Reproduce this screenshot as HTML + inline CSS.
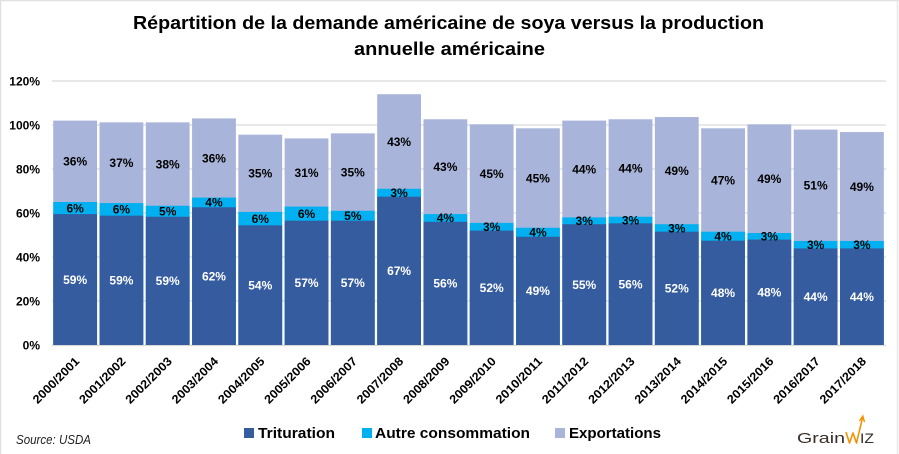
<!DOCTYPE html>
<html><head><meta charset="utf-8"><style>
html,body{margin:0;padding:0;background:#fff;}
svg{display:block;}
text{font-family:"Liberation Sans",sans-serif;}
</style></head><body>
<svg width="899" height="454" viewBox="0 0 899 454" xmlns="http://www.w3.org/2000/svg">
<rect x="0" y="0" width="899" height="454" fill="#fff"/>
<line x1="0" y1="0.5" x2="899" y2="0.5" stroke="#e0e0e0" stroke-width="1.5"/>
<line x1="0.5" y1="0" x2="0.5" y2="454" stroke="#e0e0e0" stroke-width="1.5"/>
<line x1="897.5" y1="0" x2="897.5" y2="454" stroke="#e8e8e8" stroke-width="1.5"/>

<!-- title -->
<text x="448.5" y="29" font-size="18" font-weight="bold" text-anchor="middle" textLength="631" lengthAdjust="spacingAndGlyphs" fill="#000">Répartition de la demande américaine de soya versus la production</text>
<text x="449.5" y="55" font-size="18" font-weight="bold" text-anchor="middle" textLength="191" lengthAdjust="spacingAndGlyphs" fill="#000">annuelle américaine</text>

<!-- gridlines -->
<g stroke="#d9d9d9" stroke-width="1.3">
<line x1="52" y1="81" x2="886" y2="81"/>
<line x1="52" y1="125" x2="886" y2="125"/>
<line x1="52" y1="169" x2="886" y2="169"/>
<line x1="52" y1="213" x2="886" y2="213"/>
<line x1="52" y1="257" x2="886" y2="257"/>
<line x1="52" y1="301" x2="886" y2="301"/>
<line x1="52" y1="345.5" x2="886" y2="345.5"/>
</g>

<!-- y labels -->
<g font-size="12" font-weight="bold" text-anchor="end" fill="#000">
<text x="40" y="85.3">120%</text>
<text x="40" y="129.3">100%</text>
<text x="40" y="173.3">80%</text>
<text x="40" y="217.3">60%</text>
<text x="40" y="261.3">40%</text>
<text x="40" y="305.3">20%</text>
<text x="40" y="349.3">0%</text>
</g>

<!-- bars -->
<g>
<rect x="53.24" y="120.6" width="43.8" height="224.4" fill="#a8b4d9"/><rect x="53.24" y="202" width="43.8" height="143" fill="#00b0f0"/><rect x="53.24" y="214.1" width="43.8" height="130.9" fill="#355c9f"/>
<rect x="99.52" y="122.36" width="43.8" height="222.64" fill="#a8b4d9"/><rect x="99.52" y="203.1" width="43.8" height="141.9" fill="#00b0f0"/><rect x="99.52" y="215.64" width="43.8" height="129.36" fill="#355c9f"/>
<rect x="145.8" y="122.36" width="43.8" height="222.64" fill="#a8b4d9"/><rect x="145.8" y="205.74" width="43.8" height="139.26" fill="#00b0f0"/><rect x="145.8" y="216.74" width="43.8" height="128.26" fill="#355c9f"/>
<rect x="192.08" y="118.4" width="43.8" height="226.6" fill="#a8b4d9"/><rect x="192.08" y="197.6" width="43.8" height="147.4" fill="#00b0f0"/><rect x="192.08" y="207.28" width="43.8" height="137.72" fill="#355c9f"/>
<rect x="238.36" y="134.68" width="43.8" height="210.32" fill="#a8b4d9"/><rect x="238.36" y="211.9" width="43.8" height="133.1" fill="#00b0f0"/><rect x="238.36" y="225.32" width="43.8" height="119.68" fill="#355c9f"/>
<rect x="284.64" y="138.42" width="43.8" height="206.58" fill="#a8b4d9"/><rect x="284.64" y="206.62" width="43.8" height="138.38" fill="#00b0f0"/><rect x="284.64" y="220.7" width="43.8" height="124.3" fill="#355c9f"/>
<rect x="330.92" y="133.36" width="43.8" height="211.64" fill="#a8b4d9"/><rect x="330.92" y="210.8" width="43.8" height="134.2" fill="#00b0f0"/><rect x="330.92" y="220.7" width="43.8" height="124.3" fill="#355c9f"/>
<rect x="377.2" y="94.2" width="43.8" height="250.8" fill="#a8b4d9"/><rect x="377.2" y="188.8" width="43.8" height="156.2" fill="#00b0f0"/><rect x="377.2" y="196.72" width="43.8" height="148.28" fill="#355c9f"/>
<rect x="423.48" y="119.28" width="43.8" height="225.72" fill="#a8b4d9"/><rect x="423.48" y="214.1" width="43.8" height="130.9" fill="#00b0f0"/><rect x="423.48" y="221.8" width="43.8" height="123.2" fill="#355c9f"/>
<rect x="469.76" y="124.34" width="43.8" height="220.66" fill="#a8b4d9"/><rect x="469.76" y="222.9" width="43.8" height="122.1" fill="#00b0f0"/><rect x="469.76" y="230.6" width="43.8" height="114.4" fill="#355c9f"/>
<rect x="516.04" y="128.3" width="43.8" height="216.7" fill="#a8b4d9"/><rect x="516.04" y="227.74" width="43.8" height="117.26" fill="#00b0f0"/><rect x="516.04" y="236.76" width="43.8" height="108.24" fill="#355c9f"/>
<rect x="562.32" y="120.6" width="43.8" height="224.4" fill="#a8b4d9"/><rect x="562.32" y="217.4" width="43.8" height="127.6" fill="#00b0f0"/><rect x="562.32" y="224.22" width="43.8" height="120.78" fill="#355c9f"/>
<rect x="608.6" y="119.28" width="43.8" height="225.72" fill="#a8b4d9"/><rect x="608.6" y="216.74" width="43.8" height="128.26" fill="#00b0f0"/><rect x="608.6" y="223.34" width="43.8" height="121.66" fill="#355c9f"/>
<rect x="654.88" y="117.08" width="43.8" height="227.92" fill="#a8b4d9"/><rect x="654.88" y="224.22" width="43.8" height="120.78" fill="#00b0f0"/><rect x="654.88" y="231.7" width="43.8" height="113.3" fill="#355c9f"/>
<rect x="701.16" y="128.3" width="43.8" height="216.7" fill="#a8b4d9"/><rect x="701.16" y="231.7" width="43.8" height="113.3" fill="#00b0f0"/><rect x="701.16" y="240.72" width="43.8" height="104.28" fill="#355c9f"/>
<rect x="747.44" y="124.34" width="43.8" height="220.66" fill="#a8b4d9"/><rect x="747.44" y="233.02" width="43.8" height="111.98" fill="#00b0f0"/><rect x="747.44" y="239.62" width="43.8" height="105.38" fill="#355c9f"/>
<rect x="793.72" y="129.62" width="43.8" height="215.38" fill="#a8b4d9"/><rect x="793.72" y="240.94" width="43.8" height="104.06" fill="#00b0f0"/><rect x="793.72" y="248.42" width="43.8" height="96.58" fill="#355c9f"/>
<rect x="840" y="132.04" width="43.8" height="212.96" fill="#a8b4d9"/><rect x="840" y="240.94" width="43.8" height="104.06" fill="#00b0f0"/><rect x="840" y="248.42" width="43.8" height="96.58" fill="#355c9f"/>
</g>

<!-- trituration labels (white) -->
<g font-size="12" font-weight="bold" text-anchor="middle" fill="#fff">
<text x="75.14" y="284">59%</text>
<text x="121.42" y="284.6">59%</text>
<text x="167.7" y="285.2">59%</text>
<text x="213.98" y="280.4">62%</text>
<text x="260.26" y="289.5">54%</text>
<text x="306.54" y="287.2">57%</text>
<text x="352.82" y="287.2">57%</text>
<text x="399.1" y="275.2">67%</text>
<text x="445.38" y="287.7">56%</text>
<text x="491.66" y="292.1">52%</text>
<text x="537.94" y="295.2">49%</text>
<text x="584.22" y="288.9">55%</text>
<text x="630.5" y="288.5">56%</text>
<text x="676.78" y="292.7">52%</text>
<text x="723.06" y="297.2">48%</text>
<text x="769.34" y="296.6">48%</text>
<text x="815.62" y="301">44%</text>
<text x="861.9" y="301">44%</text>
</g>

<!-- autre labels -->
<g font-size="12" font-weight="bold" text-anchor="middle" fill="#000">
<text x="75.14" y="212.3">6%</text>
<text x="121.42" y="213.7">6%</text>
<text x="167.7" y="215.5">5%</text>
<text x="213.98" y="206.7">4%</text>
<text x="260.26" y="222.9">6%</text>
<text x="306.54" y="218">6%</text>
<text x="352.82" y="220">5%</text>
<text x="399.1" y="197">3%</text>
<text x="445.38" y="222.2">4%</text>
<text x="491.66" y="231">3%</text>
<text x="537.94" y="236.5">4%</text>
<text x="584.22" y="225.1">3%</text>
<text x="630.5" y="224.3">3%</text>
<text x="676.78" y="232.3">3%</text>
<text x="723.06" y="240.5">4%</text>
<text x="769.34" y="240.6">3%</text>
<text x="815.62" y="249">3%</text>
<text x="861.9" y="249">3%</text>
</g>

<!-- export labels -->
<g font-size="12" font-weight="bold" text-anchor="middle" fill="#000">
<text x="75.14" y="165.6">36%</text>
<text x="121.42" y="167">37%</text>
<text x="167.7" y="168.3">38%</text>
<text x="213.98" y="162.3">36%</text>
<text x="260.26" y="177.6">35%</text>
<text x="306.54" y="176.8">31%</text>
<text x="352.82" y="176.4">35%</text>
<text x="399.1" y="145.8">43%</text>
<text x="445.38" y="171">43%</text>
<text x="491.66" y="177.9">45%</text>
<text x="537.94" y="182.3">45%</text>
<text x="584.22" y="173.3">44%</text>
<text x="630.5" y="172.3">44%</text>
<text x="676.78" y="175">49%</text>
<text x="723.06" y="184.3">47%</text>
<text x="769.34" y="183">49%</text>
<text x="815.62" y="189.6">51%</text>
<text x="861.9" y="190.8">49%</text>
</g>

<!-- category labels -->
<g font-size="12" font-weight="bold" text-anchor="end" fill="#000">
<text transform="translate(80.1,362) rotate(-45)" textLength="60" lengthAdjust="spacingAndGlyphs">2000/2001</text>
<text transform="translate(126.4,362) rotate(-45)" textLength="60" lengthAdjust="spacingAndGlyphs">2001/2002</text>
<text transform="translate(172.7,362) rotate(-45)" textLength="60" lengthAdjust="spacingAndGlyphs">2002/2003</text>
<text transform="translate(219,362) rotate(-45)" textLength="60" lengthAdjust="spacingAndGlyphs">2003/2004</text>
<text transform="translate(265.3,362) rotate(-45)" textLength="60" lengthAdjust="spacingAndGlyphs">2004/2005</text>
<text transform="translate(311.5,362) rotate(-45)" textLength="60" lengthAdjust="spacingAndGlyphs">2005/2006</text>
<text transform="translate(357.8,362) rotate(-45)" textLength="60" lengthAdjust="spacingAndGlyphs">2006/2007</text>
<text transform="translate(404.1,362) rotate(-45)" textLength="60" lengthAdjust="spacingAndGlyphs">2007/2008</text>
<text transform="translate(450.4,362) rotate(-45)" textLength="60" lengthAdjust="spacingAndGlyphs">2008/2009</text>
<text transform="translate(496.7,362) rotate(-45)" textLength="60" lengthAdjust="spacingAndGlyphs">2009/2010</text>
<text transform="translate(542.9,362) rotate(-45)" textLength="60" lengthAdjust="spacingAndGlyphs">2010/2011</text>
<text transform="translate(589.2,362) rotate(-45)" textLength="60" lengthAdjust="spacingAndGlyphs">2011/2012</text>
<text transform="translate(635.5,362) rotate(-45)" textLength="60" lengthAdjust="spacingAndGlyphs">2012/2013</text>
<text transform="translate(681.8,362) rotate(-45)" textLength="60" lengthAdjust="spacingAndGlyphs">2013/2014</text>
<text transform="translate(728.1,362) rotate(-45)" textLength="60" lengthAdjust="spacingAndGlyphs">2014/2015</text>
<text transform="translate(774.3,362) rotate(-45)" textLength="60" lengthAdjust="spacingAndGlyphs">2015/2016</text>
<text transform="translate(820.6,362) rotate(-45)" textLength="60" lengthAdjust="spacingAndGlyphs">2016/2017</text>
<text transform="translate(866.9,362) rotate(-45)" textLength="60" lengthAdjust="spacingAndGlyphs">2017/2018</text>
</g>

<!-- legend -->
<rect x="244" y="428" width="10" height="10" fill="#355c9f"/>
<text x="258" y="438" font-size="15" font-weight="bold" fill="#000" textLength="77" lengthAdjust="spacingAndGlyphs">Trituration</text>
<rect x="362" y="428" width="10" height="10" fill="#00b0f0"/>
<text x="375" y="438" font-size="15" font-weight="bold" fill="#000" textLength="155" lengthAdjust="spacingAndGlyphs">Autre consommation</text>
<rect x="555" y="428" width="10" height="10" fill="#a8b4d9"/>
<text x="569" y="438" font-size="15" font-weight="bold" fill="#000" textLength="92" lengthAdjust="spacingAndGlyphs">Exportations</text>

<!-- source -->
<text x="16" y="444" font-size="12.5" font-style="italic" fill="#222" textLength="75" lengthAdjust="spacingAndGlyphs">Source: USDA</text>

<!-- logo -->
<text x="797" y="443" font-size="15" fill="#3a2e29" textLength="48" lengthAdjust="spacingAndGlyphs">Grain</text>
<polyline points="846,432 849.5,443 853,433 856.5,443 862.5,418" fill="none" stroke="#f39200" stroke-width="1.6" stroke-linejoin="round"/>
<polyline points="859.5,421 862.8,416 864.5,422" fill="none" stroke="#f39200" stroke-width="1.4"/>
<text x="860" y="443" font-size="14" fill="#3a2e29" textLength="14" lengthAdjust="spacingAndGlyphs">IZ</text>
</svg>
</body></html>
